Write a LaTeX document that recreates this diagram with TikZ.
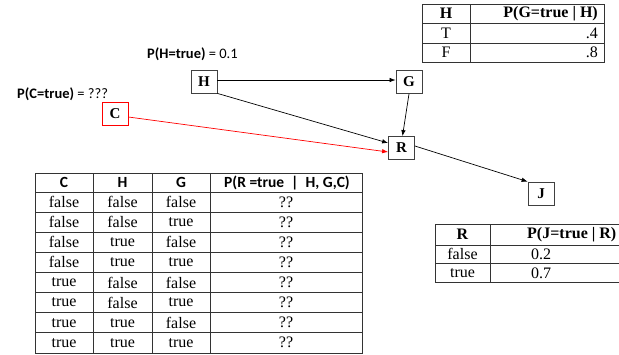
\documentclass[tikz,border=0pt]{standalone}
\usepackage{fontspec}
\setmainfont{Liberation Serif}
\newfontfamily\calfont{Carlito}
\usetikzlibrary{arrows.meta}
\begin{document}
\begin{tikzpicture}[x=1pt,y=-1pt,
  var/.style={draw=black!75, line width=0.8pt, fill=white, minimum width=26pt, minimum height=23pt, inner sep=0pt, font=\bfseries\fontsize{15}{15}\selectfont},
  arr/.style={-{Latex[length=6pt,width=4.5pt]}, line width=0.7pt},
  tab/.style={line width=0.6pt, draw=black!80},
  cell/.style={inner sep=0pt, font=\fontsize{16}{16}\selectfont},
  hcell/.style={inner sep=0pt, font=\calfont\bfseries\fontsize{15.5}{16}\selectfont},
  bcell/.style={inner sep=0pt, font=\bfseries\fontsize{16}{16}\selectfont},
  lbl/.style={inner sep=0pt, font=\calfont\fontsize{14.5}{15}\selectfont}]
\useasboundingbox (0,0) rectangle (619,354);

% nodes
\node[var] (H) at (204,81.5) {H};
\node[var] (G) at (409,82) {G};
\node[var] (R) at (401.5,148) {R};
\node[var, draw=red] (C) at (115,114) {C};
\node[var] (J) at (541,193.5) {J};

% labels
\node[lbl, anchor=west] (pH) at (147,54) {\textbf{P(H=true)} = 0.1};
\node[lbl, anchor=west] (pC) at (17,94) {\textbf{P(C=true)} = ???};

% arrows
\draw[arr] (H.east |- 0,80) -- (G.west |- 0,80);
\draw[arr] (H.south east) -- (R.west |- 0,143);
\draw[arr, red] (C.east |- 0,117) -- (R.west |- 0,152);
\draw[arr] (G.south) -- (R.north -| 402.5,0);
\draw[arr] (R.east |- 0,146) -- (J.north west);

% top-right table
\draw[tab] (422,4) rectangle (604,62);
\draw[tab] (470,4) -- (470,62);
\draw[tab] (422,23) -- (604,23);
\draw[tab] (422,43) -- (604,43);
\node[bcell] (gh) at (446,13.5) {H};
\node[bcell, anchor=east] (gp) at (598,13.5) {P(G=true | H)};
\node[cell] (gt) at (446,33) {T};
\node[cell, anchor=east] (gtv) at (598,33) {.4};
\node[cell] (gf) at (446,52.5) {F};
\node[cell, anchor=east] (gfv) at (598,52.5) {.8};

% big table
\draw[tab] (35,173) rectangle (362,352.8);
\foreach \x in {93,152,210} \draw[tab] (\x,173) -- (\x,352.8);
\draw[tab] (35,192) -- (362,192);
\foreach \i in {1,...,7} \draw[tab] (35,{192+20.1*\i}) -- (362,{192+20.1*\i});
\node[hcell] (hc) at (64,182.5) {C};
\node[hcell] (hh) at (122.5,182.5) {H};
\node[hcell] (hg) at (181,182.5) {G};
\node[hcell] (hp) at (287,182.5) {P(R =true \ | \ H, G,C)};
\foreach \c/\h/\g [count=\i] in {false/false/false, false/false/true, false/true/false, false/true/true, true/false/false, true/false/true, true/true/false, true/true/true} {
  \node[cell] (c\i) at (64,{202.05+20.1*(\i-1)}) {\c};
  \node[cell] (h\i) at (122.5,{202.05+20.1*(\i-1)}) {\h};
  \node[cell] (g\i) at (181,{202.05+20.1*(\i-1)}) {\g};
  \node[cell] (p\i) at (286,{202.05+20.1*(\i-1)}) {??};
}

% bottom-right table
\draw[tab] (619,224) -- (435,224) -- (435,282) -- (619,282);
\draw[tab] (490,224) -- (490,282);
\draw[tab] (435,245) -- (619,245);
\draw[tab] (435,263.5) -- (619,263.5);
\node[bcell] (jr) at (462.5,234.5) {R};
\node[bcell, anchor=west] (jp) at (527,234.5) {P(J=true | R)};
\node[cell] (jf) at (462.5,254) {false};
\node[cell] (jfv) at (541,254) {0.2};
\node[cell] (jt) at (462.5,273) {true};
\node[cell] (jtv) at (541,273) {0.7};
\end{tikzpicture}
\end{document}
